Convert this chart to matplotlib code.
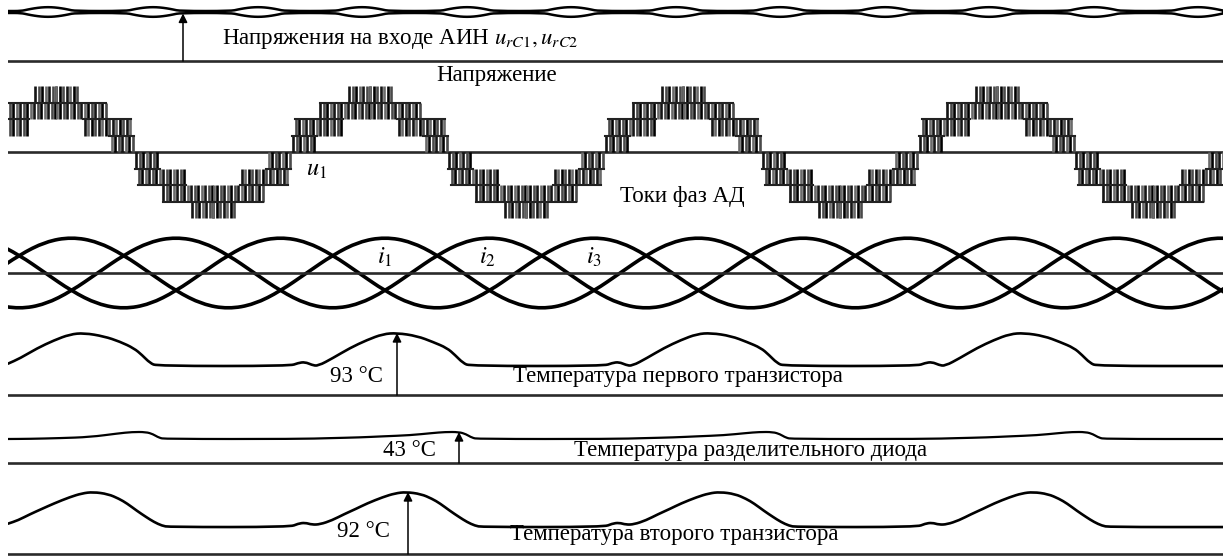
import numpy as np
import matplotlib
matplotlib.use("Agg")
import matplotlib.pyplot as plt
from matplotlib.path import Path
from matplotlib.patches import PathPatch

# шрифт как в книге (Times), формулы в stix
plt.rcParams["font.family"] = ["Liberation Serif", "DejaVu Serif"]
plt.rcParams["mathtext.fontset"] = "stix"

W, H = 1223, 556
X0 = 8

# ---- данные осциллограмм ----
# напряжения на входе АИН (о.е.), линзы пульсаций
urc_level = 1.0
urc_ripple = 0.08
urc_lens_centers = [48, 153, 258, 362, 467, 571, 676, 780, 885, 989, 1094, 1198]
urc_lens_dx = [-27, -20, -13.5, -6.75, 0, 6.75, 13.5, 20, 27]
urc_lens_shape = [0, 0.4, 0.7, 0.92, 1.0, 0.92, 0.7, 0.4, 0]

# фазное напряжение u1 (уровни многоуровневого АИН)
u1_pos_peaks = [56, 370, 683, 997]
u1_neg_peaks = [213, 526, 840, 1153]
# (от, до) по времени от центра полуволны, (нижний, верхний) уровень
u1_bands = [(0, 24, 3, 4), (0, 50, 2, 3), (27, 75, 1, 2), (53, 78, 0, 1)]

# токи фаз АД (о.е.)
i_step = 26.125
i_start = -6.875
i1 = [0, .5, .87, 1, .87, .5, 0, -.5, -.87, -1, -.87, -.5,
      0, .5, .87, 1, .87, .5, 0, -.5, -.87, -1, -.87, -.5,
      0, .5, .87, 1, .87, .5, 0, -.5, -.87, -1, -.87, -.5,
      0, .5, .87, 1, .87, .5, 0, -.5, -.87, -1, -.87, -.5, 0]
i2 = [-.87, -1, -.87, -.5, 0, .5, .87, 1, .87, .5, 0, -.5,
      -.87, -1, -.87, -.5, 0, .5, .87, 1, .87, .5, 0, -.5,
      -.87, -1, -.87, -.5, 0, .5, .87, 1, .87, .5, 0, -.5,
      -.87, -1, -.87, -.5, 0, .5, .87, 1, .87, .5, 0, -.5, -.87]
i3 = [.87, .5, 0, -.5, -.87, -1, -.87, -.5, 0, .5, .87, 1,
      .87, .5, 0, -.5, -.87, -1, -.87, -.5, 0, .5, .87, 1,
      .87, .5, 0, -.5, -.87, -1, -.87, -.5, 0, .5, .87, 1,
      .87, .5, 0, -.5, -.87, -1, -.87, -.5, 0, .5, .87, 1, .87]

# температура первого транзистора, °C
t1_time = [8, 20, 37, 54, 70, 84, 104, 120, 134, 142, 150, 157,
           290, 298, 305, 312, 318, 333, 350, 367, 383, 397, 417, 433, 447, 455, 463, 470,
           604, 612, 619, 626, 632, 647, 664, 681, 697, 711, 731, 747, 761, 769, 777, 784,
           917, 925, 932, 939, 945, 960, 977, 994, 1010, 1024, 1044, 1060, 1074, 1082, 1090, 1097,
           1223]
t1_temp = [47, 55, 70, 82, 91, 93, 88, 80, 70, 60, 48, 43.5,
           43.5, 48, 49.5, 45, 43.5, 55.5, 70.5, 82.5, 91.5, 93, 88.5, 79.5, 70.5, 60, 48, 43.5,
           43.5, 48, 49.5, 45, 43.5, 55.5, 70.5, 82.5, 91.5, 93, 88.5, 79.5, 70.5, 60, 48, 43.5,
           43.5, 48, 49.5, 45, 43.5, 55.5, 70.5, 82.5, 91.5, 93, 88.5, 79.5, 70.5, 60, 48, 43.5,
           43.5]

# температура разделительного диода, °C
d_time = [8, 30, 60, 90, 118, 132, 146, 153, 159, 165,
          298, 330, 360, 383, 410, 432, 445, 459, 466, 472, 478,
          612, 644, 674, 697, 724, 746, 759, 773, 780, 786, 792,
          925, 957, 987, 1010, 1037, 1059, 1072, 1086, 1093, 1099, 1105,
          1223]
d_temp = [33.3, 33.5, 34.5, 36, 41, 43, 43, 40, 35, 33.3,
          33.3, 34.5, 35.5, 37, 38.5, 41.5, 43, 43, 40, 35, 33.3,
          33.3, 34.5, 35.5, 37, 38.5, 41.5, 43, 43, 40, 35, 33.3,
          33.3, 34.5, 35.5, 37, 38.5, 41.5, 43, 43, 40, 35, 33.3,
          33.3]

# температура второго транзистора, °C
t2_time = [8, 18, 30, 42, 54, 70, 82, 93, 108, 119, 127, 137, 146, 154, 162, 169,
           290, 298, 305, 312, 320, 332, 344, 356, 367, 383, 395, 406, 421, 432, 440, 450, 459, 467, 475, 482,
           604, 612, 619, 626, 634, 646, 658, 670, 681, 697, 709, 720, 735, 746, 754, 764, 773, 781, 789, 796,
           917, 925, 932, 939, 947, 959, 971, 983, 994, 1010, 1022, 1033, 1048, 1059, 1067, 1077, 1086, 1094, 1102, 1109,
           1223]
t2_temp = [45, 50, 59, 67, 75, 84.5, 90, 92, 89, 82, 75, 64, 55, 47.5, 42, 40,
           40, 45, 46.5, 43.5, 44, 50, 59, 67, 75, 84.5, 90, 92, 89, 82, 75, 64, 55, 47.5, 42, 40,
           40, 45, 46.5, 43.5, 44, 50, 59, 67, 75, 84.5, 90, 92, 89, 82, 75, 64, 55, 47.5, 42, 40,
           40, 45, 46.5, 43.5, 44, 50, 59, 67, 75, 84.5, 90, 92, 89, 82, 75, 64, 55, 47.5, 42, 40,
           40]

fig = plt.figure(figsize=(W / 100, H / 100), dpi=100)
fig.patch.set_facecolor("white")


def row_axes(top_px, bot_px, base_px, px_per_unit):
    """полоса осциллограммы: ноль канала на base_px"""
    ax = fig.add_axes([X0 / W, 1 - bot_px / H, (W - X0) / W, (bot_px - top_px) / H])
    ax.set_xlim(X0, W)
    ax.set_ylim((base_px - bot_px) / px_per_unit, (base_px - top_px) / px_per_unit)
    ax.axis("off")
    return ax


def smooth_line(ax, x, y, **kw):
    """сглаженная кривая через точки (квадратичные сплайны Безье)"""
    pts = np.column_stack([x, y]).astype(float)
    mids = (pts[:-1] + pts[1:]) / 2
    verts = [pts[0], mids[0]]
    codes = [Path.MOVETO, Path.LINETO]
    for k in range(1, len(pts) - 1):
        verts += [pts[k], mids[k]]
        codes += [Path.CURVE3, Path.CURVE3]
    verts.append(pts[-1])
    codes.append(Path.LINETO)
    ax.add_patch(PathPatch(Path(verts, codes), fill=False, capstyle="round",
                           joinstyle="round", **kw))


base_kw = dict(color="#2a2a2a", lw=1.9)
arrow_kw = dict(arrowstyle="-|>", color="black", lw=1.1, mutation_scale=13,
                shrinkA=0, shrinkB=0)

# --- верхний канал: u_rC1, u_rC2 ---
ax_c = row_axes(0, 70, 61, 49)
ax_c.axhline(0, **base_kw)
xs, up, lo = [X0], [urc_level + 0.02], [urc_level - 0.02]
for c in urc_lens_centers:
    for dx, s in zip(urc_lens_dx, urc_lens_shape):
        xs.append(c + dx)
        up.append(urc_level + urc_ripple * s + 0.02)
        lo.append(urc_level - urc_ripple * s - 0.02)
xs.append(W); up.append(urc_level + 0.02); lo.append(urc_level - 0.02)
smooth_line(ax_c, xs, up, edgecolor="black", lw=1.8)
smooth_line(ax_c, xs, lo, edgecolor="black", lw=1.8)
ax_c.annotate("", xy=(183, urc_level - 0.03), xytext=(183, 0), arrowprops=arrow_kw)

# --- напряжение u1 ---
ax_u = row_axes(66, 236, 152, 16.5)
ax_u.axhline(0, **base_kw)
pitch = 3.5
bar_cols = ["#000000", "#4a4a4a", "#141414", "#6a6a6a"]
for peaks, sgn in ((u1_pos_peaks, 1), (u1_neg_peaks, -1)):
    for c in peaks:
        for bi, (d0, d1, lev_lo, lev_hi) in enumerate(u1_bands):
            ds = np.arange(d0 + 0.9 * bi, d1, pitch)
            bx = np.concatenate([c - ds, c + ds])
            cols = [bar_cols[k % 4] for k in range(len(bx))]
            ax_u.vlines(bx, sgn * lev_lo, sgn * lev_hi, colors=cols, lw=1.9)
            if lev_hi <= 3:
                ax_u.plot([c - d1, c - d0], [sgn * lev_hi] * 2, color="#222222", lw=1.5)
                ax_u.plot([c + d0, c + d1], [sgn * lev_hi] * 2, color="#222222", lw=1.5)

# --- токи фаз ---
ax_i = row_axes(226, 330, 273, 36)
ax_i.axhline(0, **base_kw)
i_time = i_start + i_step * np.arange(len(i1))
for cur in (i1, i2, i3):
    smooth_line(ax_i, i_time, cur, edgecolor="black", lw=2.6)

# --- температура первого транзистора ---
ax_t1 = row_axes(318, 405, 395, 62 / 93)
ax_t1.axhline(0, **base_kw)
smooth_line(ax_t1, t1_time, t1_temp, edgecolor="black", lw=1.9)
ax_t1.annotate("", xy=(397, 93), xytext=(397, 0), arrowprops=arrow_kw)

# --- температура диода ---
ax_d = row_axes(412, 472, 463, 31 / 43)
ax_d.axhline(0, **base_kw)
smooth_line(ax_d, d_time, d_temp, edgecolor="black", lw=1.6)
ax_d.annotate("", xy=(459, 43), xytext=(459, 0), arrowprops=arrow_kw)

# --- температура второго транзистора ---
ax_t2 = row_axes(476, 556, 554, 62 / 92)
ax_t2.axhline(0, **base_kw)
smooth_line(ax_t2, t2_time, t2_temp, edgecolor="black", lw=1.9)
ax_t2.annotate("", xy=(408, 92), xytext=(408, 0), arrowprops=arrow_kw)

# --- подписи ---
ax_txt = fig.add_axes([0, 0, 1, 1])
ax_txt.set_xlim(0, W)
ax_txt.set_ylim(H, 0)
ax_txt.axis("off")
fs = 16.5
ax_txt.text(222, 44, r"Напряжения на входе АИН $u_{rC1}, u_{rC2}$", fontsize=fs, va="baseline")
ax_txt.text(436, 81, "Напряжение", fontsize=fs, va="baseline")
ax_txt.text(306, 176, r"$u_1$", fontsize=fs + 1, va="baseline")
ax_txt.text(620, 202, "Токи фаз АД", fontsize=fs, va="baseline")
ax_txt.text(377, 264, r"$i_1$", fontsize=fs + 1, va="baseline")
ax_txt.text(479, 264, r"$i_2$", fontsize=fs + 1, va="baseline")
ax_txt.text(586, 264, r"$i_3$", fontsize=fs + 1, va="baseline")
ax_txt.text(330, 382, "93 °C", fontsize=fs, va="baseline")
ax_txt.text(513, 382, "Температура первого транзистора", fontsize=fs, va="baseline")
ax_txt.text(383, 456, "43 °C", fontsize=fs, va="baseline")
ax_txt.text(574, 456, "Температура разделительного диода", fontsize=fs, va="baseline")
ax_txt.text(337, 537, "92 °C", fontsize=fs, va="baseline")
ax_txt.text(510, 540, "Температура второго транзистора", fontsize=fs, va="baseline")

fig.savefig("out.png", dpi=100, facecolor="white")
